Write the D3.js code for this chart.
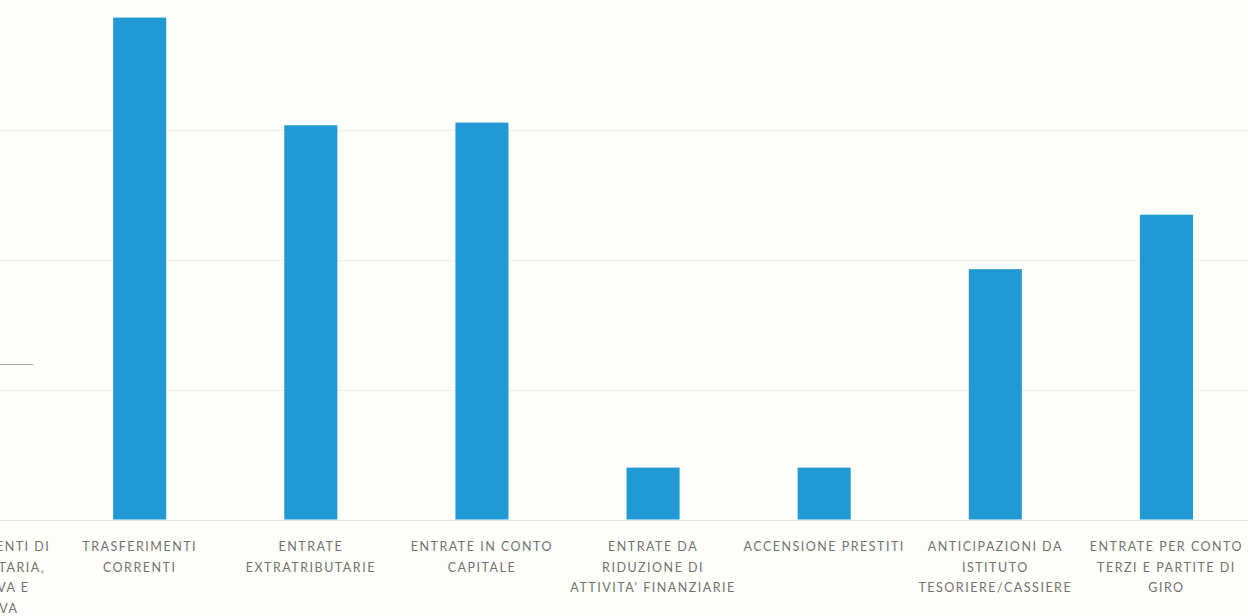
<!DOCTYPE html>
<html>
<head>
<meta charset="utf-8">
<script src="https://cdn.jsdelivr.net/npm/d3@7"></script>
<style>
  html, body { margin: 0; padding: 0; background: #fdfdf9; overflow: hidden; }
  .lbl { font-family: Lato, "Liberation Sans", sans-serif; font-size: 12.5px; fill: #727272; letter-spacing: 1.5px; }
</style>
</head>
<body>
<div id="chart"></div>
<script>
//============Bar Chart=========//
// categories (first one is cut by the left edge of the picture)
var categories = [
  'ENTRATE CORRENTI DI NATURA TRIBUTARIA',
  'TRASFERIMENTI CORRENTI',
  'ENTRATE EXTRATRIBUTARIE',
  'ENTRATE IN CONTO CAPITALE',
  'ENTRATE DA RIDUZIONE DI ATTIVITA\' FINANZIARIE',
  'ACCENSIONE PRESTITI',
  'ANTICIPAZIONI DA ISTITUTO TESORIERE/CASSIERE',
  'ENTRATE PER CONTO TERZI E PARTITE DI GIRO'
];
// how each label wraps under its bar
var labelLines = [
  ['ENTRATE CORRENTI DI', 'NATURA TRIBUTARIA,', 'CONTRIBUTIVA E', 'PEREQUATIVA'],
  ['TRASFERIMENTI', 'CORRENTI'],
  ['ENTRATE', 'EXTRATRIBUTARIE'],
  ['ENTRATE IN CONTO', 'CAPITALE'],
  ['ENTRATE DA', 'RIDUZIONE DI', 'ATTIVITA\' FINANZIARIE'],
  ['ACCENSIONE PRESTITI'],
  ['ANTICIPAZIONI DA', 'ISTITUTO', 'TESORIERE/CASSIERE'],
  ['ENTRATE PER CONTO', 'TERZI E PARTITE DI', 'GIRO']
];
// values in gridline units (no tick labels on the picture)
var values = [3.0, 3.87, 3.04, 3.06, 0.40, 0.40, 1.93, 2.35];
var gridTicks = [0, 1, 2, 3];

var width = 1248, height = 616;

var svg = d3.select('#chart').append('svg')
  .attr('width', width)
  .attr('height', height);

// x band scale, starts left of the window so the first category is cut
var x = d3.scaleBand()
  .domain(categories)
  .range([-117, 1252])
  .paddingInner(0.69)
  .paddingOuter(0.345);

var y = d3.scaleLinear()
  .domain([0, 4])
  .range([519.5, 0.7]);

// gridlines
svg.append('g')
  .selectAll('line')
  .data(gridTicks)
  .enter().append('line')
  .attr('x1', 0)
  .attr('x2', width)
  .attr('y1', function(d) { return Math.round(y(d)) + 0.5; })
  .attr('y2', function(d) { return Math.round(y(d)) + 0.5; })
  .style('stroke', function(d) { return d === 0 ? '#e6e5dc' : '#f0efe6'; })
  .style('stroke-width', 1.2);

// bars
svg.append('g')
  .selectAll('rect')
  .data(values)
  .enter().append('rect')
  .attr('x', function(d, i) { return x(categories[i]); })
  .attr('width', x.bandwidth())
  .attr('y', function(d) { return y(d); })
  .attr('height', function(d) { return y(0) - y(d); })
  .style('fill', '#2199d4');

// category labels
var lbl = svg.append('g')
  .selectAll('text')
  .data(categories)
  .enter().append('text')
  .attr('class', 'lbl')
  .attr('text-anchor', 'middle')
  .attr('transform', function(d) { return 'translate(' + (x(d) + x.bandwidth() / 2) + ',551)'; });

lbl.selectAll('tspan')
  .data(function(d, i) { return labelLines[i]; })
  .enter().append('tspan')
  .attr('x', 0)
  .attr('dy', function(d, i) { return i === 0 ? 0 : 20.5; })
  .text(function(d) { return d; });

// small stray mark at the left edge
svg.append('line')
  .attr('x1', 0).attr('x2', 33)
  .attr('y1', 364.5).attr('y2', 364.5)
  .style('stroke', '#a9a9a4')
  .style('stroke-width', 1.2);
</script>
</body>
</html>
